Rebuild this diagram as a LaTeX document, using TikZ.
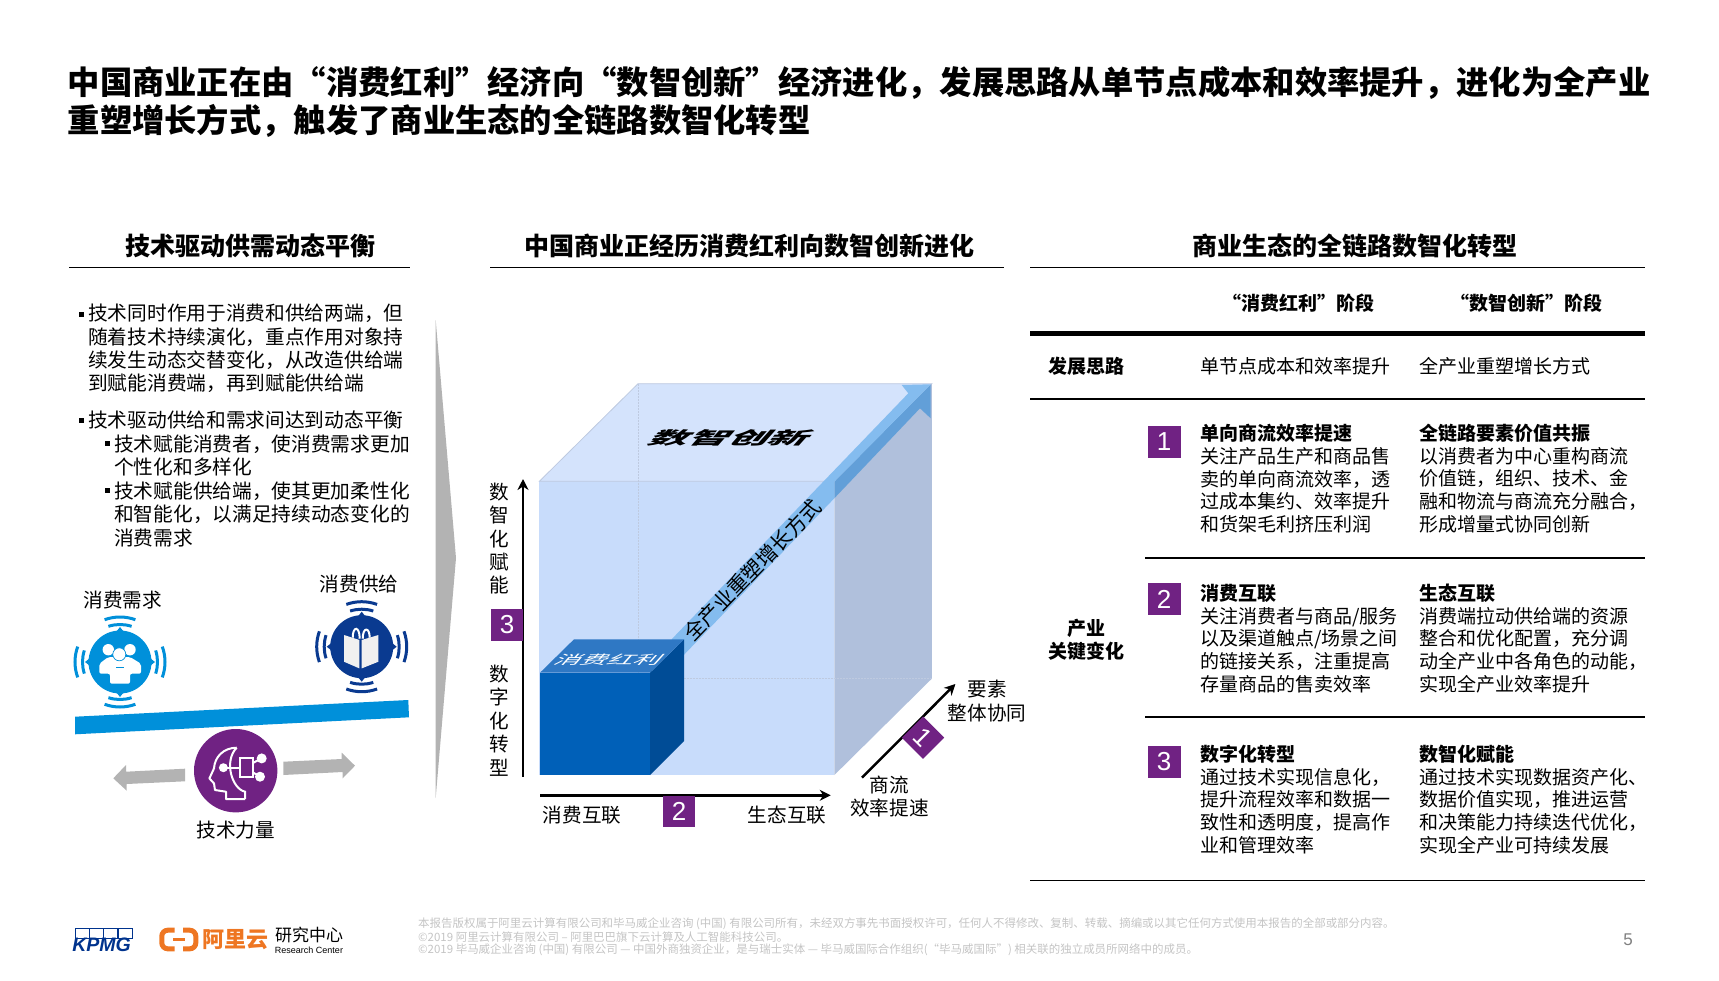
\documentclass[tikz,border=0pt]{standalone}
\usepackage{fontspec}
\setmainfont{Noto Sans CJK SC}
\newfontfamily\digitfont{Liberation Sans}
\usetikzlibrary{arrows.meta, positioning, calc}
\definecolor{mypurple}{RGB}{112,34,131}
\definecolor{mybar}{RGB}{0,144,218}
\definecolor{mynavy}{RGB}{10,58,144}
\definecolor{mygrey}{RGB}{179,179,179}
\definecolor{myfoot}{RGB}{196,196,196}
\definecolor{myorange}{RGB}{238,118,34}
\definecolor{kpmgblue}{RGB}{0,51,141}
\definecolor{cubefront}{RGB}{200,220,251}
\definecolor{cubetop}{RGB}{212,227,252}
\definecolor{cubeside}{RGB}{176,192,220}
\definecolor{cubeline}{RGB}{190,202,224}
\definecolor{smallfront}{RGB}{0,96,184}
\definecolor{smallside}{RGB}{0,76,150}
\definecolor{smalltop}{RGB}{47,120,196}
\definecolor{bandlight}{RGB}{132,188,239}
\definecolor{banddark}{RGB}{98,159,216}
\tikzset{
  headline/.style={anchor=west, align=left, inner sep=0pt, font=\fontsize{32.3}{38.5}\selectfont\bfseries},
  parthead/.style={inner sep=0pt, font=\fontsize{25}{30}\selectfont\bfseries},
  bodytext/.style={anchor=west, align=left, inner sep=0pt, font=\fontsize{19}{22.7}\selectfont},
  lefttext/.style={anchor=west, align=left, inner sep=0pt, font=\fontsize{19.7}{23.2}\selectfont},
  colhead/.style={inner sep=0pt, align=center, font=\fontsize{19}{23}\selectfont\bfseries},
  smalllabel/.style={inner sep=0pt, align=center, font=\fontsize{19.6}{23.4}\selectfont},
  footline/.style={anchor=west, inner sep=0pt, text=myfoot, font=\fontsize{11.47}{13}\selectfont},
  badgebox/.style={fill=mypurple, text=white, inner sep=0pt, minimum width=33pt, minimum height=32pt,
    font=\fontsize{26}{26}\selectfont\digitfont},
  bulletdot/.style={fill=black, inner sep=0pt, minimum size=5pt},
  axisarrow/.style={-{Stealth[length=11pt,width=11pt]}, line width=2.5pt, color=black},
  thinrule/.style={line width=1.2pt, color=black},
  wave/.style={line width=3pt},
  greyshape/.style={fill=mygrey, draw=none}
}
\begin{document}
\begin{tikzpicture}[x=1pt, y=-1pt]
  \useasboundingbox (0,0) rectangle (1719,980);
  % --- Title ---
  \node[headline] (title) at (67.5,102) {中国商业正在由“消费红利”经济向“数智创新”经济进化，发展思路从单节点成本和效率提升，进化为全产业\\重塑增长方式，触发了商业生态的全链路数智化转型};

  % --- Part heads ---
  \node[parthead] (headleft) at (250,245.5) {技术驱动供需动态平衡};
  \node[parthead] (headmid) at (749,245.5) {中国商业正经历消费红利向数智创新进化};
  \node[parthead] (headright) at (1355,245.5) {商业生态的全链路数智化转型};
  \draw[thinrule] (69,267.5) -- (410,267.5);
  \draw[thinrule] (490,267.5) -- (1004,267.5);
  \draw[thinrule] (1030,267.5) -- (1645,267.5);

  % --- Left text ---
  \node[bulletdot] (dot1) at (81.7,314) {};
  \node[lefttext] (para1) at (88,348.5) {技术同时作用于消费和供给两端，但\\随着技术持续演化，重点作用对象持\\续发生动态交替变化，从改造供给端\\到赋能消费端，再到赋能供给端};
  \node[bulletdot] (dot2) at (81.7,420) {};
  \node[lefttext] (para2) at (88,420) {技术驱动供给和需求间达到动态平衡};
  \node[bulletdot] (dot3) at (107.3,443.5) {};
  \node[lefttext] (para3) at (114,455.3) {技术赋能消费者，使消费需求更加\\个性化和多样化};
  \node[bulletdot] (dot4) at (107.3,490) {};
  \node[lefttext] (para4) at (114,514.5) {技术赋能供给端，使其更加柔性化\\和智能化，以满足持续动态变化的\\消费需求};

  % --- Balance ---
  \node[smalllabel] (demandlabel) at (122.7,600) {消费需求};
  \node[smalllabel] (supplylabel) at (359,584) {消费供给};
  \node[smalllabel] (techlabel) at (235.7,830) {技术力量};

  \begin{scope}[shift={(120,662)}]
    \fill[mybar] (0,0) circle (31.5pt);
    \foreach \ang in {0,90,180,270} {
      \fill[mybar] (\ang-8:30pt) -- (\ang:35pt) -- (\ang+8:30pt) -- cycle;
      \draw[wave, mybar] (\ang-18:37.5pt) arc[start angle=\ang-18, end angle=\ang+18, radius=37.5pt];
      \draw[wave, mybar] (\ang-20:45pt) arc[start angle=\ang-20, end angle=\ang+20, radius=45pt];
    }
    % people
    \fill[white] (-11.7,-12.3) circle (5.7pt);
    \fill[white] (10,-12.3) circle (5.7pt);
    \fill[white, rounded corners=2pt] (-20.7,11.7) -- (-20.7,1.7) -- (-11.7,-5) -- (10,-5) -- (21,1.7) -- (21,11.7) -- (10,11.7) -- (10,21.7) -- (-10,21.7) -- (-10,11.7) -- cycle;
    \filldraw[fill=white, draw=mybar, line width=0.7pt] (-0.7,-7.7) circle (6.5pt);
    \draw[mybar, line width=0.8pt] (-4,5.7) -- (4,5.7);
  \end{scope}

  \begin{scope}[shift={(361.7,646.7)}]
    \fill[mynavy] (0,0) circle (31.5pt);
    \foreach \ang in {0,90,180,270} {
      \fill[mynavy] (\ang-8:30pt) -- (\ang:35pt) -- (\ang+8:30pt) -- cycle;
      \draw[wave, mynavy] (\ang-18:37.5pt) arc[start angle=\ang-18, end angle=\ang+18, radius=37.5pt];
      \draw[wave, mynavy] (\ang-20:45pt) arc[start angle=\ang-20, end angle=\ang+20, radius=45pt];
    }
    % bag
    \draw[white, line width=2pt] (-9,-9) .. controls (-9,-21) and (-2,-21) .. (-2,-8);
    \draw[white, line width=2pt] (1,-8) .. controls (1,-20) and (8,-20) .. (8,-9);
    \fill[white!94!black] (-17.7,-11.7) -- (-2.3,-6.7) -- (-2.3,21.7) -- (-17.7,15) -- cycle;
    \fill[white!94!black] (0,-6.7) -- (16.7,-11.7) -- (16.7,15) -- (0,21.7) -- cycle;
  \end{scope}

  \fill[mybar] (75,716.7) -- (408.3,700) -- (409,717.3) -- (75,734.3) -- cycle;

  \begin{scope}[shift={(235.7,770.7)}]
    \fill[mypurple] (0,0) circle (41.7pt);
    \draw[white, line width=2pt, line join=round] (9.3,28.3) -- (-9.7,28.3) -- (-9.7,21) -- (-20.7,19.3) -- (-21.7,12.7) -- (-26.3,7.7) -- (-21.7,-2.3) .. controls (-21,-14) and (-12,-23) .. (1,-23);
    \draw[white, line width=2pt] (9.3,28.3) -- (9.3,21) .. controls (-4,18) and (-12,-10) .. (1,-23);
    \draw[white, line width=2pt] (4.3,-12.3) rectangle (17.7,6);
    \draw[white, line width=2pt] (-12.3,-3) -- (4.3,-3);
    \draw[white, line width=2pt] (17.7,-8) -- (26,-12.3);
    \draw[white, line width=2pt] (17.7,2) -- (24.3,6);
    \fill[white] (26,-12.3) circle (5pt);
    \fill[white] (24.3,6) circle (5pt);
    \fill[white] (-12.3,-3) circle (4.5pt);
  \end{scope}

  \fill[greyshape] (185,768.7) -- (126,771.7) -- (126,765) -- (113.3,778.3) -- (126.7,790.7) -- (126.7,784) -- (185,781.3) -- cycle;
  \fill[greyshape] (283.3,761.7) -- (341.7,759) -- (341.7,752.7) -- (355,765.7) -- (342.7,778.3) -- (342.7,772) -- (283.3,775) -- cycle;

  % --- Chevron ---
  \fill[greyshape] (435.7,320) -- (456,558) -- (435.7,798) -- cycle;

  % --- Big cube ---
  \filldraw[fill=cubefront, draw=none] (539.4,481.3) rectangle (834.3,775.1);
  \filldraw[fill=cubetop, draw=cubeline, line width=0.8pt] (539.4,481.3) -- (638,383.7) -- (931.9,383.7) -- (834.3,481.3) -- cycle;
  \fill[cubeside] (834.3,481.3) -- (931.9,383.7) -- (931.9,678.6) -- (834.3,775.1) -- cycle;
  \draw[cubeline, line width=0.5pt, densely dotted] (638,383.7) -- (638,678.6) -- (931.9,678.6);
  \draw[cubeline, line width=0.5pt, densely dotted] (638,678.6) -- (539.4,775.1);

  % --- Growth band ---
  \fill[banddark] (834.3,481.7) -- (930.7,384.3) -- (930.7,418.3) -- (920,408.3) -- (834.3,498.3) -- cycle;
  \fill[bandlight] (671.6,639.3) -- (908.3,393.3) -- (901.7,385) -- (930.7,384.3) -- (834.3,481.7) -- (834.3,498.3) -- (683.8,655) -- cycle;
  \node[inner sep=0pt, rotate=46, font=\fontsize{20.8}{24}\selectfont] (bandlabel) at (752.5,570) {全产业重塑增长方式};

  % --- Small cube ---
  \fill[smallfront] (540,672.7) rectangle (650,775);
  \fill[smallside] (650,672.7) -- (684,639.3) -- (684,741) -- (650,775) -- cycle;
  \fill[smalltop] (540,672.7) -- (574,639.3) -- (684,639.3) -- (650,672.7) -- cycle;

  % --- Skewed words ---
  \begin{scope}[shift={(732,438)}, xslant=0.9, xscale=1.65, yscale=0.72]
    \node[transform shape, inner sep=0pt, font=\fontsize{24}{24}\selectfont\bfseries] (innovlabel) at (0,0) {数智创新};
  \end{scope}
  \begin{scope}[shift={(609.5,660)}, xslant=0.9, xscale=1.32, yscale=0.62]
    \node[transform shape, inner sep=0pt, text=white, font=\fontsize{20}{20}\selectfont] (bonuslabel) at (0,0) {消费红利};
  \end{scope}

  % --- Axes ---
  \coordinate (vstart) at (523,776.7);
  \coordinate (vend) at (523,479);
  \coordinate (hstart) at (540,795.3);
  \coordinate (hend) at (830.7,795.3);
  \coordinate (dstart) at (862,777.7);
  \coordinate (dend) at (955.4,684);
  \draw[axisarrow] (vstart) -- (vend);
  \draw[axisarrow] (hstart) -- (hend);
  \draw[axisarrow] (dstart) -- (dend);

  \node[badgebox, minimum width=32pt, minimum height=31.5pt] (badgeY) at (507,625) {3};
  \node[badgebox, minimum width=32pt, minimum height=31pt] (badgeX) at (679,811.3) {2};
  \node[badgebox, minimum width=30pt, minimum height=30pt, rotate=-45] (badgeZ) at (923,737.7) {1};

  \node[smalllabel] (yupper) at (499.6,538.7) {数\\智\\化\\赋\\能};
  \node[smalllabel] (ylower) at (499.6,720.5) {数\\字\\化\\转\\型};
  \node[smalllabel] (xleft) at (582,815) {消费互联};
  \node[smalllabel] (xright) at (787,815) {生态互联};
  \node[smalllabel] (zlow) at (889.5,796.5) {商流\\效率提速};
  \node[smalllabel] (zhigh) at (987,701) {要素\\整体协同};

  % --- Table ---
  \node[colhead] (colbonus) at (1298,302.7) {“消费红利”阶段};
  \node[colhead] (colinnov) at (1526,302.7) {“数智创新”阶段};
  \draw[line width=5pt] (1030,333.3) -- (1645,333.3);
  \node[colhead] (rowidea) at (1086,366) {发展思路};
  \node[bodytext] (ideaA) at (1200,366) {单节点成本和效率提升};
  \node[bodytext] (ideaB) at (1419,366) {全产业重塑增长方式};
  \draw[thinrule] (1030,399) -- (1645,399);
  \node[colhead] (rowchange) at (1086.5,640) {产业\\关键变化};

  \node[badgebox] (badge1) at (1164,442) {1};
  \node[bodytext] (cellA1) at (1200,478.6) {\textbf{单向商流效率提速}\\关注产品生产和商品售\\卖的单向商流效率，透\\过成本集约、效率提升\\和货架毛利挤压利润};
  \node[bodytext] (cellB1) at (1419,478.6) {\textbf{全链路要素价值共振}\\以消费者为中心重构商流\\价值链，组织、技术、金\\融和物流与商流充分融合，\\形成增量式协同创新};
  \draw[thinrule] (1145,558) -- (1645,558);

  \node[badgebox] (badge2) at (1164,599) {2};
  \node[bodytext] (cellA2) at (1200,638.5) {\textbf{消费互联}\\关注消费者与商品/服务\\以及渠道触点/场景之间\\的链接关系，注重提高\\存量商品的售卖效率};
  \node[bodytext] (cellB2) at (1419,638.5) {\textbf{生态互联}\\消费端拉动供给端的资源\\整合和优化配置，充分调\\动全产业中各角色的动能，\\实现全产业效率提升};
  \draw[thinrule] (1145,717) -- (1645,717);

  \node[badgebox] (badge3) at (1164,762) {3};
  \node[bodytext] (cellA3) at (1200,799.5) {\textbf{数字化转型}\\通过技术实现信息化，\\提升流程效率和数据一\\致性和透明度，提高作\\业和管理效率};
  \node[bodytext] (cellB3) at (1419,799.5) {\textbf{数智化赋能}\\通过技术实现数据资产化、\\数据价值实现，推进运营\\和决策能力持续迭代优化，\\实现全产业可持续发展};
  \draw[thinrule] (1030,880.3) -- (1645,880.3);

  % --- Footer ---
  \node[footline] (foot1) at (418,924) {本报告版权属于阿里云计算有限公司和毕马威企业咨询 (中国) 有限公司所有，未经双方事先书面授权许可，任何人不得修改、复制、转载、摘编或以其它任何方式使用本报告的全部或部分内容。};
  \node[footline] (foot2) at (418,937) {©2019 阿里云计算有限公司 – 阿里巴巴旗下云计算及人工智能科技公司。};
  \node[footline] (foot3) at (418,950) {©2019 毕马威企业咨询 (中国) 有限公司 — 中国外商独资企业，是与瑞士实体 — 毕马威国际合作组织(“毕马威国际”) 相关联的独立成员所网络中的成员。};
  \node[inner sep=0pt, text=gray, font=\fontsize{17}{17}\selectfont\digitfont] (pagenum) at (1628,939.5) {5};

  % --- Logos ---
  \foreach \xa in {75,89.3,103.3,117.7} {
    \draw[kpmgblue, line width=0.4pt] (\xa,927.7) rectangle ++(14,10.6);
  }
  \node[inner sep=0pt, text=kpmgblue, font=\fontsize{19.5}{19.5}\selectfont\digitfont\bfseries\itshape] (kpmg) at (101.5,945) {KPMG};
  \draw[myorange, line width=5pt, rounded corners=6pt] (174.5,930.2) -- (161.8,930.2) -- (161.8,948.8) -- (174.5,948.8);
  \draw[myorange, line width=5pt, rounded corners=6pt] (183,930.2) -- (195.8,930.2) -- (195.8,948.8) -- (183,948.8);
  \draw[myorange, line width=2.5pt] (173.3,939.3) -- (185,939.3);
  \node[inner sep=0pt, text=myorange, font=\fontsize{22}{22}\selectfont\bfseries] (aliyun) at (235.5,939.3) {阿里云};
  \node[inner sep=0pt, font=\fontsize{17}{17}\selectfont] (centerzh) at (309,935.5) {研究中心};
  \node[inner sep=0pt, font=\fontsize{9}{9}\selectfont\digitfont] (centeren) at (309,950) {Research Center};
\end{tikzpicture}
\end{document}
